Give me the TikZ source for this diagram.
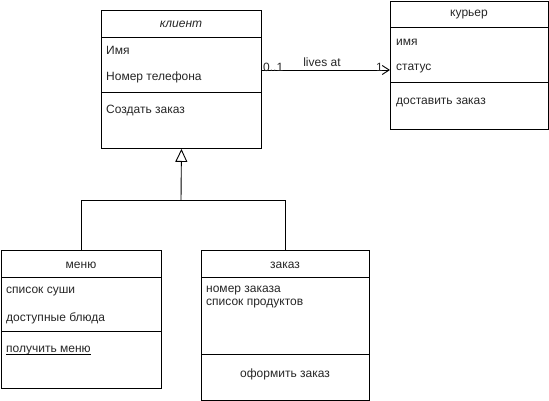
\documentclass[tikz,border=0pt]{standalone}
\usepackage{fontspec}
\setmainfont{Liberation Sans}
\usetikzlibrary{arrows.meta,calc}
\begin{document}
\begin{tikzpicture}[x=1pt,y=-1pt,
  every node/.style={font=\fontsize{12}{14}\selectfont, text=black!85},
  cls/.style={draw, line width=0.9pt, anchor=north west, inner sep=0pt, minimum width=#1},
  item/.style={anchor=west, inner sep=0pt},
  head/.style={inner sep=0pt},
  sep/.style={line width=0.9pt},
  link/.style={line width=0.9pt}]
\useasboundingbox (0,0) rectangle (549,401);

% class boxes
\node[cls=160pt, minimum height=138pt] (klient) at (101,10) {};
\node[cls=158pt, minimum height=128pt] (kurier) at (390,1) {};
\node[cls=160pt, minimum height=138pt] (menu) at (1,250) {};
\node[cls=168pt, minimum height=150pt] (zakaz) at (201,250) {};

% klient
\draw[sep] (101,37) -- (261,37);
\draw[sep] (101,92) -- (261,92);
\node[head] (klientT) at (181,24) {\itshape клиент};
\node[item] (k1) at (106,50) {Имя};
\node[item] (k2) at (106,77) {Номер телефона};
\node[item] (k3) at (106,111) {Создать заказ};

% kurier
\draw[sep] (390,27) -- (548,27);
\draw[sep] (390,82) -- (548,82);
\node[head] (kurierT) at (469,15) {курьер};
\node[item] (c1) at (396,42) {имя};
\node[item] (c2) at (396,69) {статус};
\node[item] (c3) at (396,102) {доставить заказ};

% menu
\draw[sep] (1,277) -- (161,277);
\draw[sep] (1,331) -- (161,331);
\node[head] (menuT) at (81,265) {меню};
\node[item] (m1) at (6,292) {список суши};
\node[item] (m2) at (6,318) {доступные блюда};
\node[item] (m3) at (6,351) {получить меню};
\draw[line width=0.6pt] ($(m3.base west)+(0,1.5)$) -- ($(m3.base east)+(0,1.5)$);

% zakaz
\draw[sep] (201,277) -- (369,277);
\draw[sep] (201,354) -- (369,354);
\node[head] (zakazT) at (285,265) {заказ};
\node[item] (z1) at (206,291) {номер заказа};
\node[item] (z2) at (206,304) {список продуктов};
\node[head] (z3) at (285,374) {оформить заказ};

% association
\coordinate (aS) at (261,70);
\coordinate (aE) at (390,70);
\draw[link, -{Straight Barb[length=7pt,width=9pt,line width=0.9pt]}] (aS) -- (aE);
\node[anchor=south west, inner sep=0pt] (m01) at (263,72) {0..1};
\node[anchor=south, inner sep=0pt] (lbl) at (322,67) {lives at};
\node[anchor=south east, inner sep=0pt] (m1r) at (383,72) {1};

% generalization
\coordinate (j) at (181,200);
\draw[link] (menu.north) |- (j);
\draw[link] (zakaz.north -| 285,0) |- (j);
\draw[link, -{Triangle[open,length=13pt,width=12pt,line width=0.9pt]}] (j) -- (klient.south);
\end{tikzpicture}
\end{document}
